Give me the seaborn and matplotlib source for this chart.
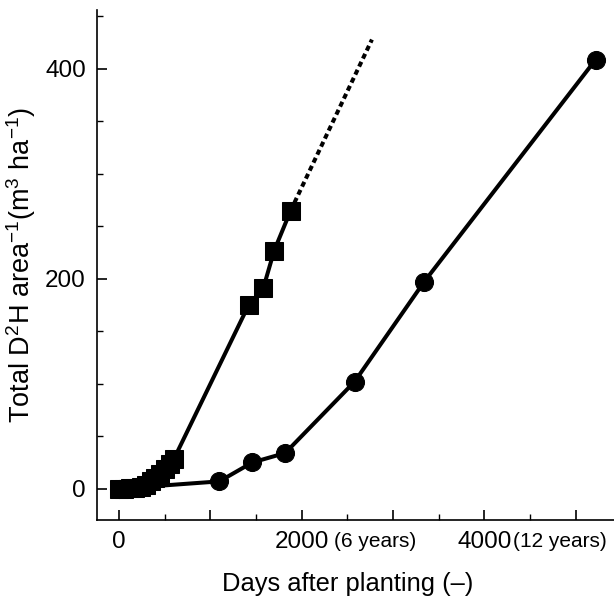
import numpy as np
import pandas as pd
import matplotlib
matplotlib.use("Agg")
import matplotlib.pyplot as plt
from matplotlib.ticker import MultipleLocator
import seaborn as sns

# Datos
dias_cuadrado = [0, 60, 120, 180, 240, 300, 350, 400, 450, 500, 560, 600,
                 1420, 1580, 1700, 1880]
area_cuadrado = [0, 0, 0.5, 1, 2, 4, 7, 10, 14, 19, 24, 28,
                 175, 191, 227, 265]
dias_extrapol = [1880, 2770]
area_extrapol = [265, 428]
dias_circulo = [0, 1100, 1460, 1820, 2580, 3340, 5220]
area_circulo = [0, 7, 25, 34, 102, 197, 409]

df_cuad = pd.DataFrame({"dias": dias_cuadrado, "area": area_cuadrado})
df_ext = pd.DataFrame({"dias": dias_extrapol, "area": area_extrapol})
df_circ = pd.DataFrame({"dias": dias_circulo, "area": area_circulo})

sns.set_style("ticks")
plt.rcParams["font.family"] = ["Liberation Sans", "DejaVu Sans"]
plt.rcParams["mathtext.default"] = "regular"
for k in ["text.color", "axes.labelcolor", "xtick.color", "ytick.color",
          "axes.edgecolor"]:
    plt.rcParams[k] = "black"

fig = plt.figure(figsize=(6.14, 6.0), dpi=100)
ax = fig.add_axes([0.158, 0.133, 0.842, 0.85])

sns.lineplot(data=df_ext, x="dias", y="area", ax=ax, color="black",
             linewidth=2.9, linestyle=(0, (1.3, 0.9)), estimator=None, sort=False)
sns.lineplot(data=df_circ, x="dias", y="area", ax=ax, color="black",
             linewidth=2.9, marker="o", markersize=13, markeredgecolor="black",
             estimator=None, sort=False)
sns.lineplot(data=df_cuad, x="dias", y="area", ax=ax, color="black",
             linewidth=2.9, marker="s", markersize=12.5, markeredgecolor="black",
             estimator=None, sort=False)

ax.set_xlim(-240, 5420)
ax.set_ylim(-30, 456)
ax.set_xticks([0, 1000, 2000, 3000, 4000, 5000])
ax.set_xticklabels(["0", "", "2000", "", "4000", ""])
ax.xaxis.set_minor_locator(MultipleLocator(500))
ax.set_yticks([0, 200, 400])
ax.yaxis.set_minor_locator(MultipleLocator(50))
ax.tick_params(which="major", direction="in", length=7, width=1.2,
               labelsize=17.5, pad=8)
ax.tick_params(which="minor", direction="in", length=4, width=1.0)

for xv, txt, dx in [(2000, "(6 years)", 23), (4000, "(12 years)", 21)]:
    ax.annotate(txt, xy=(xv, 0), xycoords=("data", "axes fraction"),
                xytext=(dx, -15.5), textcoords="offset points",
                ha="left", va="center", fontsize=15)

ax.set_xlabel("Days after planting (–)", fontsize=18.4)
ax.xaxis.set_label_coords(0.484, -0.102)
ax.set_ylabel("Total D$^2$H area$^{-1}$(m$^3$ ha$^{-1}$)", fontsize=19.5)
ax.yaxis.set_label_coords(-0.115, 0.5)

sns.despine(ax=ax)
for s in ["left", "bottom"]:
    ax.spines[s].set_linewidth(1.2)

fig.savefig("out.png", dpi=100)
